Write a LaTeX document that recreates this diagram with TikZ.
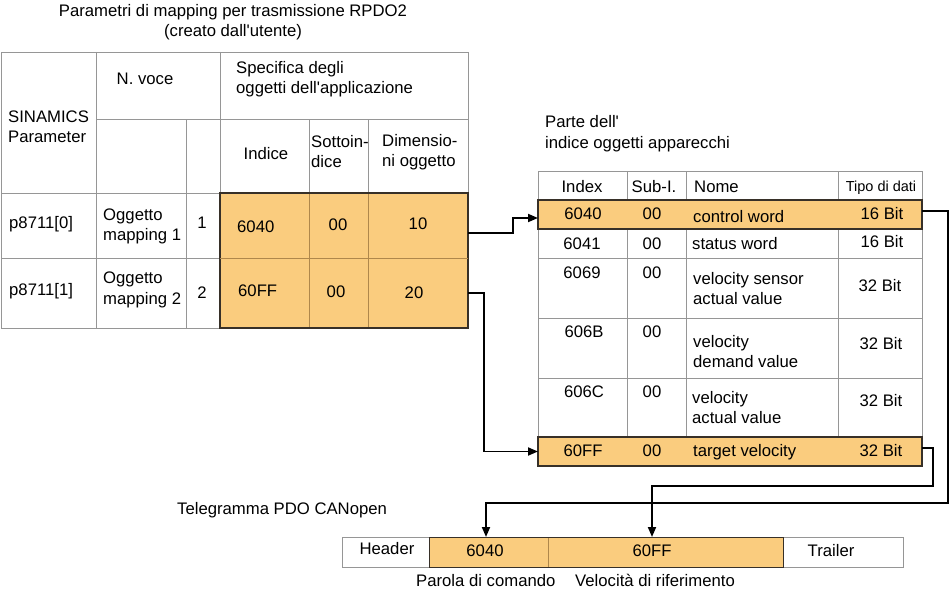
\documentclass[tikz,border=0pt]{standalone}
\usepackage{fontspec}
\setmainfont{Liberation Sans}[Ligatures=TeXOff]
\usetikzlibrary{arrows.meta}
\definecolor{orfill}{RGB}{250,204,126}
\definecolor{gridc}{RGB}{150,150,150}
\definecolor{ordark}{RGB}{55,48,40}
\definecolor{orline}{RGB}{175,135,75}
\begin{document}
\begin{tikzpicture}[x=1pt,y=-1pt,
  font=\fontsize{16.7}{20}\selectfont,
  gridline/.style={draw=gridc,line width=0.8pt},
  innerline/.style={draw=orline,line width=0.7pt},
  tl/.style={anchor=base west,inner sep=0pt},
  tc/.style={anchor=base,inner sep=0pt},
  orblock/.style={draw=ordark,fill=orfill,line width=1.5pt,inner sep=0pt,outer sep=0pt,anchor=north west},
  ghost/.style={inner sep=0pt,outer sep=0pt,anchor=north west},
  tcell/.style={draw=orline,fill=orfill,line width=0.7pt,inner sep=0pt,outer sep=0pt,anchor=north west},
  conn/.style={draw=black,line width=1.8pt,-{Triangle[length=10pt,width=8pt]}},
  small/.style={font=\fontsize{14.5}{17}\selectfont}
  ]
\useasboundingbox (0,0) rectangle (949,599);

% ---------------- left table ----------------
\draw[gridline] (1,52) rectangle (468,328);
\draw[gridline] (96,52) -- (96,328);
\draw[gridline] (220,52) -- (220,328);
\draw[gridline] (96,119) -- (468,119);
\draw[gridline] (186,119) -- (186,328);
\draw[gridline] (309,119) -- (309,193);
\draw[gridline] (368,119) -- (368,193);
\draw[gridline] (1,193) -- (220,193);
\draw[gridline] (1,258) -- (220,258);

\node[orblock, minimum width=248pt, minimum height=135pt] (lblock) at (220,193) {};
\node[ghost, minimum width=248pt, minimum height=65pt] (lrow1) at (220,193) {};
\node[ghost, minimum width=248pt, minimum height=70pt] (lrow2) at (220,258) {};
\draw[innerline] (lrow1.south west) -- (lrow1.south east);
\draw[innerline] (309,194) -- (309,327);
\draw[innerline] (368,194) -- (368,327);

\node[tc] (title1) at (233,17) {Parametri di mapping per trasmissione RPDO2};
\node[tc] (title2) at (233,37) {(creato dall'utente)};
\node[tl] (sin1) at (8,122) {SINAMICS};
\node[tl] (sin2) at (8,142) {Parameter};
\node[tc] (nvoce) at (145,85) {N. voce};
\node[tl] (spec1) at (236,74) {Specifica degli};
\node[tl] (spec2) at (236,94) {oggetti dell'applicazione};
\node[tc] (indice) at (266,159) {Indice};
\node[tl] (sott1) at (311,147) {Sottoin-};
\node[tl] (sott2) at (311,167) {dice};
\node[tl] (dim1) at (382,146) {Dimensio-};
\node[tl] (dim2) at (382,166) {ni oggetto};

\node[tl] (p0) at (9,228) {p8711[0]};
\node[tl] (og1a) at (103,220) {Oggetto};
\node[tl] (og1b) at (103,240) {mapping 1};
\node[tc] (n1) at (202,228) {1};
\node[tl] (l6040) at (237,232) {6040};
\node[tc] (l00a) at (338,230) {00};
\node[tc] (l10) at (418,229) {10};

\node[tl] (p1) at (9,295) {p8711[1]};
\node[tl] (og2a) at (103,283) {Oggetto};
\node[tl] (og2b) at (103,304) {mapping 2};
\node[tc] (n2) at (202,298) {2};
\node[tl] (l60FF) at (238,296) {60FF};
\node[tc] (l00b) at (336,297) {00};
\node[tc] (l20) at (414,298) {20};

% ---------------- right table ----------------
\draw[gridline] (538,171) rectangle (922,466);
\foreach \xx in {627,686,838} \draw[gridline] (\xx,171) -- (\xx,466);
\foreach \yy in {200,229,258,318,378,437} \draw[gridline] (538,\yy) -- (922,\yy);
\node[orblock, minimum width=384pt, minimum height=29pt] (r6040) at (538,200) {};
\node[orblock, minimum width=384pt, minimum height=29pt] (r60FF) at (538,437) {};

\node[tl] (parte1) at (545,128) {Parte dell'};
\node[tl] (parte2) at (545,148) {indice oggetti apparecchi};
\node[tc] (hidx) at (582,192) {Index};
\node[tc] (hsub) at (654,192) {Sub-I.};
\node[tl] (hnome) at (694,192) {Nome};
\node[tc,small] (htipo) at (881,191) {Tipo di dati};

\node[tc] (a1) at (583,219) {6040};
\node[tc] (a2) at (652,219) {00};
\node[tl] (a3) at (693,222) {control word};
\node[tc] (a4) at (882,219) {16 Bit};

\node[tc] (b1) at (582,249) {6041};
\node[tc] (b2) at (652,249) {00};
\node[tl] (b3) at (692,249) {status word};
\node[tc] (b4) at (882,247) {16 Bit};

\node[tc] (c1) at (582,278) {6069};
\node[tc] (c2) at (652,278) {00};
\node[tl] (c3) at (693,284) {velocity sensor};
\node[tl] (c4) at (693,304) {actual value};
\node[tc] (c5) at (880,291) {32 Bit};

\node[tc] (d1) at (584,337) {606B};
\node[tc] (d2) at (652,337) {00};
\node[tl] (d3) at (693,347) {velocity};
\node[tl] (d4) at (693,367) {demand value};
\node[tc] (d5) at (881,349) {32 Bit};

\node[tc] (e1) at (584,397) {606C};
\node[tc] (e2) at (652,397) {00};
\node[tl] (e3) at (692,403) {velocity};
\node[tl] (e4) at (692,423) {actual value};
\node[tc] (e5) at (881,406) {32 Bit};

\node[tc] (f1) at (583,456) {60FF};
\node[tc] (f2) at (652,456) {00};
\node[tl] (f3) at (693,456) {target velocity};
\node[tc] (f4) at (881,456) {32 Bit};

% ---------------- telegram ----------------
\draw[gridline] (342,537) rectangle (903,567);
\node[tcell, minimum width=119pt, minimum height=30pt] (t6040) at (429,537) {};
\node[tcell, minimum width=235pt, minimum height=30pt] (t60FF) at (548,537) {};
\draw[draw=ordark,line width=1pt] (t6040.north west) rectangle (t60FF.south east);

\node[tl] (telt) at (177,514) {Telegramma PDO CANopen};
\node[tc] (thead) at (387,554) {Header};
\node[tc] (tx1) at (485,556) {6040};
\node[tc] (tx2) at (652,556) {60FF};
\node[tc] (ttrail) at (831,556) {Trailer};
\node[tl] (tpar) at (416,586) {Parola di comando};
\node[tl] (tvel) at (575,586) {Velocità di riferimento};

% ---------------- connectors ----------------
\draw[conn] ([yshift=-7.5pt]lrow1.east) -- ++(45,0) |- ([yshift=-3.5pt]r6040.west);
\draw[conn] (lrow2.east) -- ++(16,0) |- (r60FF.west);
\draw[conn] ([yshift=3.5pt]r6040.east) -- ++(26,0) -- ++(0,292) -| ([xshift=-2.5pt]t6040.north);
\draw[conn] ([yshift=3.5pt]r60FF.east) -- ++(11,0) -- ++(0,38) -| ([xshift=-13.5pt]t60FF.north);
\end{tikzpicture}
\end{document}
